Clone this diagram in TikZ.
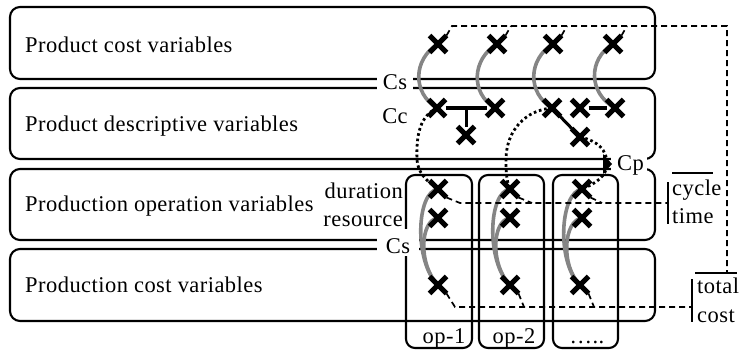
\documentclass[tikz,border=0pt]{standalone}
\usepackage{fontspec}
\setmainfont[LetterSpace=2]{Liberation Serif}
\usetikzlibrary{shapes.misc}
\pgfdeclarelayer{back}
\pgfdeclarelayer{cover}
\pgfdeclarelayer{mid}
\pgfsetlayers{back,cover,mid,main}
\begin{document}
\begin{tikzpicture}[x=1pt,y=-1pt,
  bigbox/.style={draw,line width=2.1pt,rounded corners=10pt},
  opbox/.style={draw,line width=2.1pt,rounded corners=9pt},
  xmark/.style={draw,cross out,line width=5pt,minimum size=12pt,inner sep=0pt},
  grayarc/.style={draw=black!48,line width=3.6pt},
  dsh/.style={line width=1.7pt,dash pattern=on 6pt off 4pt},
  dotline/.style={line width=2.8pt,dash pattern=on 2.6pt off 2.8pt},
  solidln/.style={line width=3pt},
  barln/.style={line width=1.9pt},
  lbl/.style={font=\fontsize{22.5}{26}\selectfont,inner sep=0pt}]
\useasboundingbox (0,0) rectangle (743,350);

% ---- boxes
\begin{pgfonlayer}{back}
\draw[bigbox] (10,7) rectangle (655,79);
\draw[bigbox] (10,88) rectangle (655,159);
\draw[bigbox] (10,169) rectangle (655,240);
\draw[bigbox] (10,249) rectangle (655,321);
\draw[opbox] (406,175) rectangle (472,348);
\draw[opbox] (479,175) rectangle (544,348);
\draw[opbox] (553,175) rectangle (618,348);
\end{pgfonlayer}

% ---- labels and covers
\begin{pgfonlayer}{cover}
\fill[white] (377,74) rectangle (413,93);
\fill[white] (377,229) rectangle (419,256);
\fill[white] (611,150) rectangle (647,174);
\fill[black] (603,154) -- (612,164) -- (603,174) -- cycle;
\node[lbl,anchor=base west] (l1) at (25,53) {Product cost variables};
\node[lbl,anchor=base west] (l2) at (25,131) {Product descriptive variables};
\node[lbl,anchor=base west] (l3) at (25,211) {Production operation variables};
\node[lbl,anchor=base west] (l4) at (25,292) {Production cost variables};
\node[lbl,anchor=base east] (dur) at (403,198) {duration};
\node[lbl,anchor=base east] (res) at (403,226) {resource};
\node[lbl,anchor=base] (cs1) at (395,90) {Cs};
\node[lbl,anchor=base] (cc) at (395,124) {Cc};
\node[lbl,anchor=base] (cs2) at (398,253) {Cs};
\node[lbl,anchor=base west] (cp) at (617,170) {Cp};
\node[lbl,anchor=base] (op1) at (444,343) {op-1};
\node[lbl,anchor=base] (op2) at (514,343) {op-2};
\node[lbl,anchor=base] (op3) at (587,343) {…..};
\node[lbl,anchor=base west] (cyc) at (672,195) {cycle};
\node[lbl,anchor=base west] (tim) at (672,223) {time};
\node[lbl,anchor=base west] (tot) at (697,293) {total};
\node[lbl,anchor=base west] (cst) at (697,322) {cost};
\end{pgfonlayer}

% ---- crosses
\node[xmark] (t1) at (438,44) {};
\node[xmark] (t2) at (497,44) {};
\node[xmark] (t3) at (553,44) {};
\node[xmark] (t4) at (613,44) {};
\node[xmark] (c1) at (437,108) {};
\node[xmark] (c2) at (495,108) {};
\node[xmark] (c3) at (552,108) {};
\node[xmark] (c4) at (580,108) {};
\node[xmark] (c5) at (615,108) {};
\node[xmark] (x1) at (466,135) {};
\node[xmark] (x2) at (580,137) {};
\node[xmark] (d1) at (438,189) {};
\node[xmark] (d2) at (510,189) {};
\node[xmark] (d3) at (582,189) {};
\node[xmark] (r1) at (438,218) {};
\node[xmark] (r2) at (510,218) {};
\node[xmark] (r3) at (582,218) {};
\node[xmark] (b1) at (438,285) {};
\node[xmark] (b2) at (510,285) {};
\node[xmark] (b3) at (580,285) {};

\coordinate (tj) at (466,108);
\coordinate (ttop) at (727,26);
\coordinate (tend) at (727,273);
\coordinate (cyend) at (668,203);
\coordinate (coend) at (692,307);

\begin{pgfonlayer}{mid}
% gray arcs
\draw[grayarc] (t1.center) .. controls +(-25,15) and +(-25,-15) .. (c1.center);
\draw[grayarc] (t2.center) .. controls +(-25,15) and +(-25,-15) .. (c2.center);
\draw[grayarc] (t3.center) .. controls +(-25,15) and +(-25,-15) .. (c3.center);
\draw[grayarc] (t4.center) .. controls +(-25,15) and +(-27,-15) .. (c5.center);
\foreach \o in {1,2,3}{
  \draw[grayarc] (d\o.center) .. controls +(-22,3) and +(-24,-23) .. (b\o.center);
  \draw[grayarc] (r\o.center) .. controls +(-18,2) and +(-20,-20) .. (b\o.center);
}
% solid links
\draw[solidln] (c1) -- (c2);
\draw[solidln] (tj) -- (x1);
\draw[solidln] (c3) -- (x2);
\draw[solidln] (c4) -- (c5);
% dotted links
\draw[dotline] (c1.center) .. controls (420,116) and (416,135) .. (417,160)
   .. controls (418,172) and (425,180) .. (d1.center);
\draw[dotline] (c3.center) .. controls (526,110) and (506,130) .. (506,160)
   .. controls (506,175) and (507,182) .. (d2.center);
\draw[dotline] (x2.center) .. controls (598,141) and (607,150) .. (607,164)
   .. controls (607,176) and (595,184) .. (d3.center);
% dashed: total cost
\draw[dsh] (t1.north east) -- (452,26) -- (ttop) -- (tend);
\draw[dsh] (t2.north east) -- (511,26);
\draw[dsh] (t3.north east) -- (567,26);
\draw[dsh] (t4.north east) -- (627,26);
% dashed: cycle time
\draw[dsh] (d1.south east) -- (460,203) -- (cyend);
\draw[dsh] (d2.south east) -- (532,203);
\draw[dsh] (d3.south east) -- (602,203);
% dashed: production cost
\draw[dsh] (b1.south east) -- (455,307) -- (coend);
\draw[dsh] (b2.south east) -- (524,307);
\draw[dsh] (b3.south east) -- (594,307);
% brackets
\draw[barln] (668,182) -- (668,224);
\draw[barln] (672,173) -- (713,173);
\draw[barln] (692,279) -- (692,322);
\draw[barln] (695,273) -- (737,273);
\end{pgfonlayer}
\end{tikzpicture}
\end{document}
